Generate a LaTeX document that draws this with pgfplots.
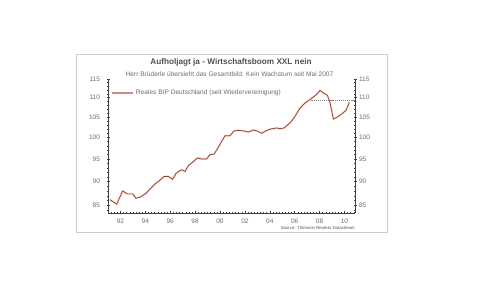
\documentclass[border=0pt]{standalone}
\usepackage{fontspec}
\setmainfont{Liberation Sans}
\usepackage{pgfplots}
\pgfplotsset{compat=1.18}
\definecolor{linecol}{RGB}{140,62,48}
\definecolor{halo}{RGB}{250,218,200}
\definecolor{legcol}{RGB}{195,145,128}
\definecolor{txt}{RGB}{80,80,80}
\definecolor{lighttxt}{RGB}{110,110,110}
\pgfplotstableread{
x y
1991.16 86.2
1991.45 85.7
1991.70 85.3
1992.18 88.0
1992.55 87.4
1992.98 87.4
1993.25 86.5
1993.57 86.7
1994.05 87.5
1994.38 88.4
1994.78 89.5
1995.18 90.3
1995.50 91.1
1995.85 91.1
1996.20 90.5
1996.47 91.8
1996.92 92.6
1997.19 92.2
1997.46 93.5
1997.86 94.4
1998.18 95.2
1998.53 95.0
1998.93 95.0
1999.20 96.0
1999.52 96.1
1999.79 97.3
2000.14 99.1
2000.40 100.4
2000.80 100.4
2001.13 101.6
2001.50 101.7
2001.88 101.6
2002.28 101.3
2002.68 101.8
2002.95 101.6
2003.35 101.0
2003.75 101.7
2004.16 102.1
2004.56 102.3
2004.83 102.1
2005.15 102.3
2005.42 103.0
2005.76 104.0
2006.03 105.2
2006.43 107.3
2006.84 108.6
2007.24 109.5
2007.64 110.5
2007.83 111.1
2008.04 111.9
2008.31 111.2
2008.63 110.6
2008.85 108.6
2009.11 104.5
2009.43 105.0
2009.79 105.8
2010.13 106.7
2010.40 108.8
}\gdp
\begin{document}
\begin{tikzpicture}
\useasboundingbox[fill=white] (0pt,0pt) rectangle (479pt,296pt);
\draw[gray!40] (76.5pt,64pt) rectangle (387pt,242pt);
\node[font=\fontsize{8.2}{9}\selectfont\bfseries, text=txt] at (231pt,234pt) {Aufholjagt ja - Wirtschaftsboom XXL nein};
\node[font=\fontsize{6.6}{8}\selectfont, text=lighttxt] at (229.5pt,222pt) {Herr Brüderle übersieht das Gesamtbild: Kein Wachstum seit Mai 2007};
\node[anchor=east, font=\fontsize{4.3}{5}\selectfont, text=txt, inner sep=0pt] at (355pt,68pt) {Source: Thomson Reuters Datastream};
\begin{axis}[
  at={(108pt,83pt)}, anchor=south west, scale only axis,
  width=247pt, height=134pt,
  xmin=1991, xmax=2010.85,
  ymode=log, ymin=83.5, ymax=115,
  axis x line*=bottom, axis y line*=left,
  axis line style={black!75, line width=0.5pt},
  xtick={1992,1994,...,2010},
  xticklabels={92,94,96,98,00,02,04,06,08,10},
  minor xtick={1991,1991.25,...,2010.8},
  ytick={85,90,95,100,105,110,115},
  yticklabels={85,90,95,100,105,110,115},
  minor ytick={84,85,...,115},
  tick align=center,
  major tick length=3pt, minor tick length=1.5pt,
  every tick/.style={black!75, line width=0.4pt},
  ticklabel style={font=\fontsize{6.5}{7}\selectfont, text=lighttxt},
  /pgf/number format/assume math mode=true,
  yticklabel style={xshift=-3pt},
  xticklabel style={yshift=-1pt},
  legend style={draw=none, fill=none, at={(0.01,0.896)}, anchor=west,
    font=\fontsize{6.6}{8}\selectfont, text=lighttxt, inner sep=1pt},
  legend cell align=left,
  legend image code/.code={\draw[legcol, line width=1.3pt] (0pt,0pt) -- (21pt,0pt);},
]
\addplot[halo, line width=2pt, forget plot] table[x=x,y=y] {\gdp};
\addplot[linecol, line width=0.7pt] table[x=x,y=y] {\gdp};
\addlegendentry{Reales BIP Deutschland (seit Wiedervereinigung)}
\addplot[gray, dash pattern=on 1.2pt off 0.9pt, line width=0.6pt, forget plot] coordinates {(2007.35,109.4) (2010.85,109.4)};
\end{axis}
\begin{axis}[
  at={(108pt,83pt)}, anchor=south west, scale only axis,
  width=247pt, height=134pt,
  xmin=1991, xmax=2010.85,
  ymode=log, ymin=83.5, ymax=115,
  axis x line=none, axis y line*=right,
  axis line style={black!75, line width=0.5pt},
  ytick={85,90,95,100,105,110,115},
  yticklabels={85,90,95,100,105,110,115},
  minor ytick={84,85,...,115},
  tick align=center,
  major tick length=3pt, minor tick length=1.5pt,
  every tick/.style={black!75, line width=0.4pt},
  ticklabel style={font=\fontsize{6.5}{7}\selectfont, text=lighttxt},
  yticklabel style={xshift=-1pt},
]
\addplot[draw=none, forget plot] coordinates {(1995,90)};
\end{axis}
\end{tikzpicture}
\end{document}
